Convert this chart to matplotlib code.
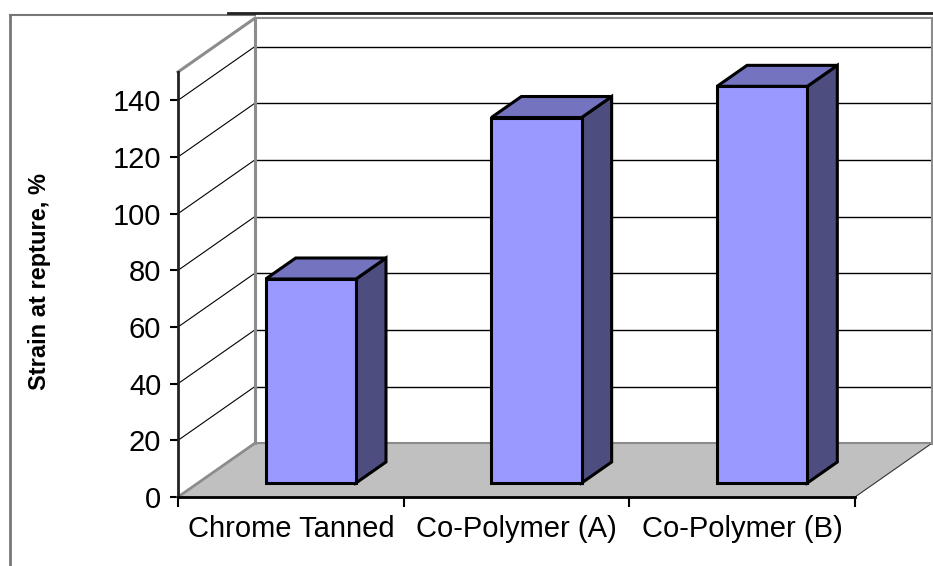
#!/usr/bin/env python3
"""Strain at rupture for three tanning treatments, Excel-style 3D bars."""

import matplotlib

matplotlib.use("Agg", force=True)
import matplotlib.pyplot as plt
from matplotlib.lines import Line2D
from matplotlib.patches import Polygon

categories = ["Chrome Tanned", "Co-Polymer (A)", "Co-Polymer (B)"]
strain = [72, 129, 140]
y_ticks = [0, 20, 40, 60, 80, 100, 120, 140]
y_max = 150
y_label = "Strain at repture, %"

FRONT = "#9999ff"
TOP = "#7373bf"
SIDE = "#4d4d80"
FLOOR = "#c0c0c0"
WALL_EDGE = "#8c8c8c"

# oblique depth offset of the floor (data units)
DX, DY = 0.341, 19.0
BAR_W = 0.40
BAR_D0, BAR_D1 = 0.26, 0.65

plt.rcParams["font.family"] = ["Liberation Sans", "DejaVu Sans"]

W, H = 933, 566
fig = plt.figure(figsize=(W / 100, H / 100), dpi=100)
ax = fig.add_axes([178 / W, (H - 497) / H, 677 / W, 425 / H])
n = len(categories)
ax.set_xlim(0, n)
ax.set_ylim(0, y_max)
ax.patch.set_visible(False)


def off(x, y, d):
    return (x + d * DX, y + d * DY)


# floor
ax.add_patch(Polygon([off(0, 0, 0), off(n, 0, 0), off(n, 0, 1), off(0, 0, 1)],
                     closed=True, facecolor=FLOOR, edgecolor="none", clip_on=False, zorder=1))
ax.add_line(Line2D([0, DX], [0, DY], color=WALL_EDGE, lw=2, clip_on=False, zorder=2))
ax.add_line(Line2D([n, n + DX], [0, DY], color="#333333", lw=0.8, clip_on=False, zorder=2))
ax.add_line(Line2D([DX, n + DX], [DY, DY], color=WALL_EDGE, lw=1.5, clip_on=False, zorder=2))

# back wall and side wall gridlines
for v in y_ticks[1:]:
    ax.add_line(Line2D([DX, n + DX], [v + DY, v + DY], color="black", lw=1, clip_on=False, zorder=2))
    ax.add_line(Line2D([0, DX], [v, v + DY], color="black", lw=0.8, clip_on=False, zorder=2))
ax.add_line(Line2D([DX, n + DX], [y_max + DY, y_max + DY], color=WALL_EDGE, lw=1.5,
                   clip_on=False, zorder=2))
ax.add_line(Line2D([0, DX], [y_max, y_max + DY], color=WALL_EDGE, lw=2.2, clip_on=False, zorder=2))
ax.add_line(Line2D([DX, DX], [DY, y_max + DY], color=WALL_EDGE, lw=2.2, clip_on=False, zorder=2))
ax.add_line(Line2D([n + DX, n + DX], [DY, y_max + DY], color=WALL_EDGE, lw=2.2,
                   clip_on=False, zorder=2))

# bars
for i, val in enumerate(strain):
    x0 = i + 0.5 - BAR_W / 2
    x1 = x0 + BAR_W
    front = [off(x0, 0, BAR_D0), off(x1, 0, BAR_D0), off(x1, val, BAR_D0), off(x0, val, BAR_D0)]
    side = [off(x1, 0, BAR_D0), off(x1, 0, BAR_D1), off(x1, val, BAR_D1), off(x1, val, BAR_D0)]
    top = [off(x0, val, BAR_D0), off(x1, val, BAR_D0), off(x1, val, BAR_D1), off(x0, val, BAR_D1)]
    for pts, col in [(side, SIDE), (top, TOP), (front, FRONT)]:
        ax.add_patch(Polygon(pts, closed=True, facecolor=col, edgecolor="black", lw=2.2,
                             joinstyle="miter", clip_on=False, zorder=5))

# axes
for s in ["top", "right"]:
    ax.spines[s].set_visible(False)
ax.spines["left"].set_linewidth(2)
ax.spines["bottom"].set_linewidth(2)
ax.spines["left"].set_color("#222222")
ax.set_yticks(y_ticks)
ax.set_xticks(range(n + 1))
ax.set_xticklabels([])
ax.set_xticks([i + 0.5 for i in range(n)], minor=True)
ax.set_xticklabels(categories, minor=True)
ax.tick_params(axis="y", direction="out", length=6, width=1.5, labelsize=21, pad=6)
ax.tick_params(axis="x", which="major", direction="out", length=7, width=1.5)
ax.tick_params(axis="x", which="minor", length=0, labelsize=21, pad=13)
fig.text(40 / W, 1 - 282 / H, y_label, rotation=90, fontsize=17, fontweight="bold",
         ha="center", va="center")

# chart frame
fig.add_artist(Line2D([10 / W, 10 / W], [0, 1 - 15 / H], color="#777777", lw=2))
fig.add_artist(Line2D([10 / W, 255 / W], [1 - 15 / H, 1 - 15 / H], color="#777777", lw=1.5))
fig.add_artist(Line2D([228 / W, 1], [1 - 12.5 / H, 1 - 12.5 / H], color="#222222", lw=2))

fig.savefig("out.png", dpi=100)
